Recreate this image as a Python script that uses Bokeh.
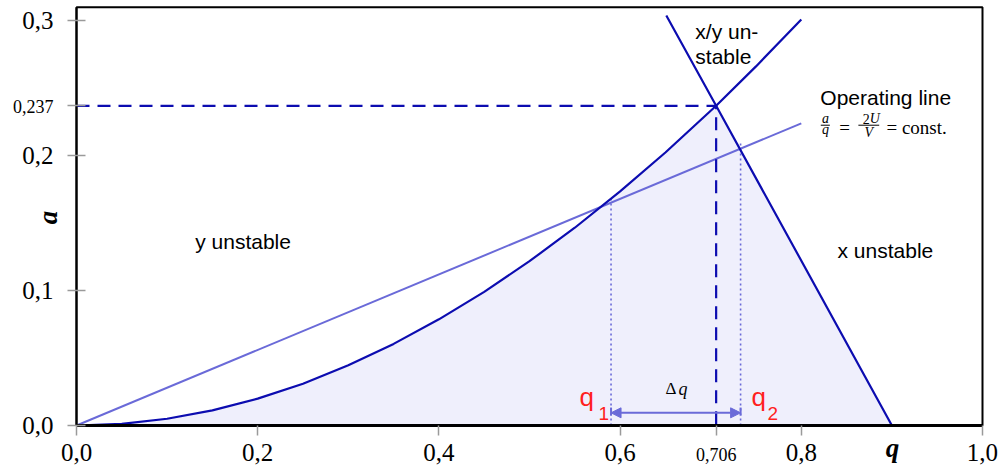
import math
from bokeh.plotting import figure
from bokeh.models import (FixedTicker, CustomJSTickFormatter, Label, Arrow,
                          NormalHead, LinearAxis, BoxAnnotation)
from bokeh.embed import file_html
from bokeh.resources import INLINE

# Stability boundary for the y direction (lower curve), points (q, a)
q_bound_y = [0.0, 0.05, 0.10, 0.15, 0.20, 0.25, 0.30, 0.35, 0.40, 0.45,
             0.50, 0.55, 0.60, 0.65, 0.706, 0.75, 0.80]
a_bound_y = [0.0, 0.00125, 0.0050, 0.0112, 0.0199, 0.0310, 0.0446, 0.0605,
             0.0787, 0.0991, 0.1218, 0.1466, 0.1735, 0.2024, 0.237, 0.2662,
             0.3009]

# Stability boundary for the x direction (right line)
q_bound_x = [0.651, 0.706, 0.90]
a_bound_x = [0.304, 0.237, 0.0]

# Operating line a/q = const.
q_oper = [0.0, 0.80]
a_oper = [0.0, 0.224]

# Apex of the stability region
apex_q = 0.706
apex_a = 0.237

# Mass window edges and where they meet the operating line
q_edges = [0.59, 0.733]
a_edges = [0.169, 0.209]
arrow_a = 0.0094
tee_a = [0.0074, 0.0133]

x_ticks = [0.0, 0.2, 0.4, 0.6, 0.706, 0.8, 1.0]
y_ticks = [0.0, 0.1, 0.2, 0.237, 0.3]
q_max = 1.0
a_max = 0.31

DARK = "#0c0cb0"
OPER = "#6a6ad8"
FILL = "#efeffc"
RED = "#ff1f1f"
SERIF = "Liberation Serif"
SANS = "Liberation Sans"

# The frame fills the whole canvas; the axes sit at q = 0 and a = 0.
p = figure(width=1003, height=474, x_range=(-0.08389, 1.02318),
           y_range=(-0.03632, 0.31505),
           x_axis_location=None, y_axis_location=None,
           output_backend="svg", toolbar_location=None,
           min_border=0, min_border_left=0, min_border_right=0,
           min_border_top=0, min_border_bottom=0)
p.xgrid.visible = False
p.ygrid.visible = False
p.background_fill_color = "white"
p.border_fill_color = "white"
p.outline_line_color = None

fmt = CustomJSTickFormatter(code="""
    if (Math.abs(tick - 0.706) < 1e-6 || Math.abs(tick - 0.237) < 1e-6) return "";
    return tick.toFixed(1).replace('.', ',');
""")

common = dict(fixed_location=0, formatter=fmt, minor_tick_line_color=None,
              major_tick_line_color="#9a9a9a", major_tick_line_width=1.5,
              major_label_text_font=SERIF,
              major_label_text_font_size="25px",
              major_label_text_color="black")

xax = LinearAxis(ticker=FixedTicker(ticks=x_ticks), bounds=(0, q_max),
                 major_tick_in=0, major_tick_out=10, major_label_standoff=8,
                 axis_line_color=None, **common)
yax = LinearAxis(ticker=FixedTicker(ticks=y_ticks), bounds=(0, a_max),
                 major_tick_in=9, major_tick_out=9, major_label_standoff=14,
                 axis_line_color="black", axis_line_width=2, **common)
p.add_layout(yax, "left")

# Plot-area border
p.add_layout(BoxAnnotation(left=0, right=q_max, bottom=0, top=a_max,
                           fill_alpha=0, line_color="black", line_alpha=1.0,
                           line_width=2, level="underlay"))

# Shaded stability region: lower curve up to the apex, then the x boundary
fill_q = [q for q in q_bound_y if q <= apex_q] + [q for q in q_bound_x if q > apex_q]
fill_a = ([a for q, a in zip(q_bound_y, a_bound_y) if q <= apex_q]
          + [a for q, a in zip(q_bound_x, a_bound_x) if q > apex_q])
fill_q = fill_q + [0.0]
fill_a = fill_a + [0.0]
p.patch(fill_q, fill_a, fill_color=FILL, line_color=None)

# Operating line
p.line(q_oper, a_oper, line_color=OPER, line_width=2)

# Dotted verticals at the window edges
p.segment(x0=q_edges, y0=[0, 0], x1=q_edges, y1=a_edges,
          line_color=OPER, line_width=1.6, line_dash="2 3")

# Boundaries
p.line(q_bound_y, a_bound_y, line_color=DARK, line_width=2.2)
p.line(q_bound_x, a_bound_x, line_color=DARK, line_width=2.2)

# Dashed guides to the apex
p.line([0, apex_q, apex_q], [apex_a, apex_a, 0], line_color=DARK,
       line_width=2.2, line_dash="13 8")

# Delta-q arrow with end bars
p.add_layout(Arrow(x_start=q_edges[0], y_start=arrow_a,
                   x_end=q_edges[1], y_end=arrow_a,
                   line_color=OPER, line_width=2,
                   start=NormalHead(size=10, fill_color=OPER, line_color=OPER),
                   end=NormalHead(size=10, fill_color=OPER, line_color=OPER)))
p.segment(x0=q_edges, y0=[tee_a[0]] * 2, x1=q_edges, y1=[tee_a[1]] * 2,
          line_color=OPER, line_width=2)

# Heavy baseline along a = 0, then the x axis ticks and labels
p.line([0, q_max], [0, 0], line_color="black", line_width=3)
p.add_layout(xax, "below")


def lab(x, y, text, size, font=SANS, style="normal", color="black",
        align="left"):
    # baseline placement, corrected by roughly a descender depth
    p.add_layout(Label(x=x, y=y, text=text, text_font=font,
                       text_font_size="%dpx" % size, text_font_style=style,
                       text_color=color, text_align=align,
                       text_baseline="alphabetic",
                       y_offset=round(0.28 * size)))


# Region labels
lab(0.131, 0.132, "y unstable", 21)
lab(0.840, 0.125, "x unstable", 21)
lab(0.683, 0.2876, "x/y un-", 21)
lab(0.683, 0.2693, "stable", 21)
lab(0.821, 0.2385, "Operating line", 21)

# a/q = 2U/V = const.
lab(0.8267, 0.2246, "a", 14, font=SERIF, style="italic", align="center")
p.segment(x0=[0.8215], y0=[0.2226], x1=[0.8315], y1=[0.2226],
          line_color="black", line_width=1)
lab(0.8267, 0.2165, "q", 14, font=SERIF, style="italic", align="center")
lab(0.842, 0.2174, "=", 19, font=SERIF)
lab(0.8755, 0.2246, "2", 14, font=SERIF, align="right")
lab(0.8755, 0.2246, "U", 14, font=SERIF, style="italic")
p.segment(x0=[0.863], y0=[0.2226], x1=[0.886], y1=[0.2226],
          line_color="black", line_width=1)
lab(0.8745, 0.2140, "V", 14, font=SERIF, style="italic", align="center")
lab(0.894, 0.2174, "= const.", 19, font=SERIF)

# Window labels
lab(0.5552, 0.0156, "q", 26, color=RED)
lab(0.5762, 0.0052, "1", 19, color=RED)
lab(0.745, 0.0156, "q", 26, color=RED)
lab(0.7627, 0.0052, "2", 19, color=RED)
lab(0.650, 0.0237, "\u0394", 17, font=SERIF)
lab(0.6645, 0.0237, "q", 18, font=SERIF, style="italic")

# Special tick values and axis names
lab(apex_q, -0.0252, "0,706", 18, font=SERIF, align="center")
lab(-0.0254, 0.2327, "0,237", 18, font=SERIF, align="right")
lab(0.9006, -0.0225, "q", 27, font=SERIF, style="bold italic",
    align="center")
p.add_layout(Label(x=-0.032, y=0.1542, text="a", text_font=SERIF,
                   text_font_size="27px", text_font_style="bold italic",
                   text_color="black", text_align="center",
                   text_baseline="middle", angle=math.pi / 2))

open("out.html", "w").write(file_html(p, INLINE))
